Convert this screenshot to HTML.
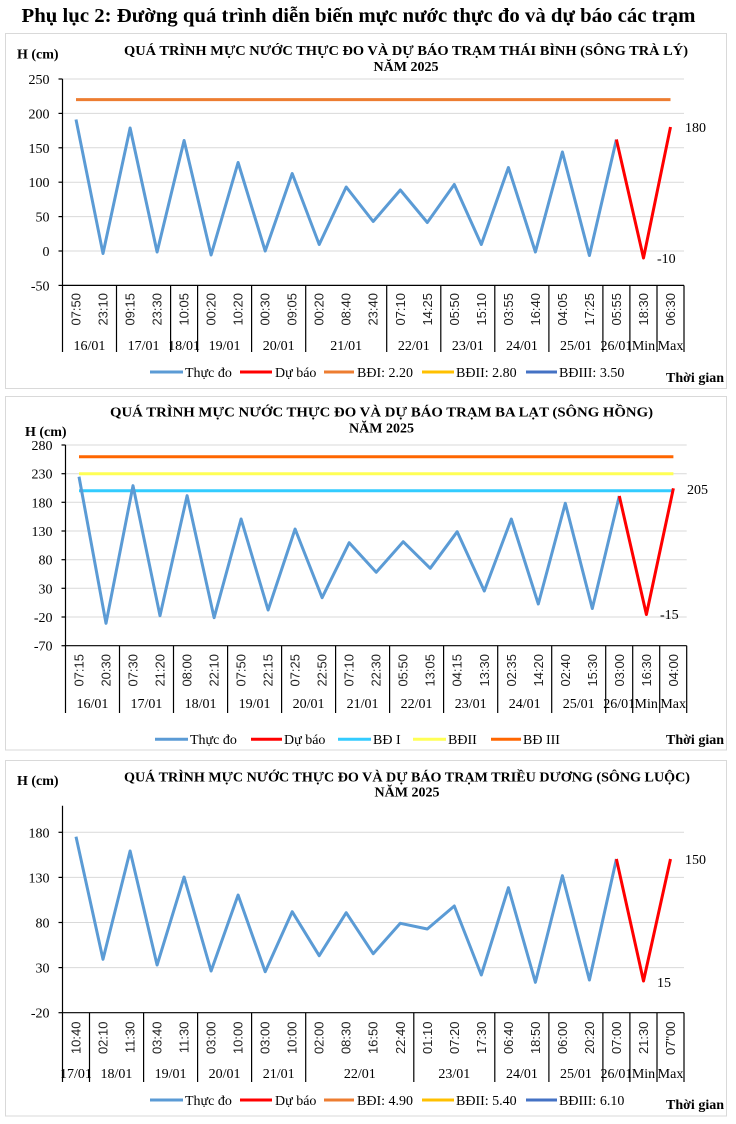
<!DOCTYPE html>
<html><head><meta charset="utf-8"><style>
html,body{margin:0;padding:0;background:#fff;}
svg{display:block;}
.s{font-family:"Liberation Serif","DejaVu Serif",serif;}
.b{font-weight:bold;}
.t{font-family:"Liberation Sans","DejaVu Sans",sans-serif;font-size:13px;fill:#222;}
.tk{font-family:"Liberation Serif",serif;font-size:14px;fill:#000;}
.g{stroke:#d9d9d9;stroke-width:1;}
.ax{stroke:#000;stroke-width:1.2;}
.bl{fill:none;stroke:#5b9bd5;stroke-width:3;stroke-linejoin:round;}
.rd{fill:none;stroke:#ff0000;stroke-width:3;stroke-linejoin:round;}
</style></head><body>
<svg width="736" height="1124" viewBox="0 0 736 1124" xmlns="http://www.w3.org/2000/svg">
<rect width="736" height="1124" fill="#fff"/>
<text class="s b" x="21.5" y="22" font-size="20" textLength="674" lengthAdjust="spacingAndGlyphs">Phụ lục 2: Đường quá trình diễn biến mực nước thực đo và dự báo các trạm</text>

<!-- ========== CHART 1 ========== -->
<rect x="5.5" y="33.5" width="721" height="355" fill="#fff" stroke="#d9d9d9"/>
<text class="s b" x="17" y="58.5" font-size="14">H (cm)</text>
<text class="s b" x="406" y="55" font-size="13.5" text-anchor="middle" textLength="564" lengthAdjust="spacingAndGlyphs">QUÁ TRÌNH MỰC NƯỚC THỰC ĐO VÀ DỰ BÁO TRẠM THÁI BÌNH (SÔNG TRÀ LÝ)</text>
<text class="s b" x="406" y="71" font-size="13.5" text-anchor="middle" textLength="65" lengthAdjust="spacingAndGlyphs">NĂM 2025</text>
<g class="g">
<line x1="62.5" y1="79" x2="684" y2="79"/><line x1="62.5" y1="113.4" x2="684" y2="113.4"/><line x1="62.5" y1="147.8" x2="684" y2="147.8"/><line x1="62.5" y1="182.2" x2="684" y2="182.2"/><line x1="62.5" y1="216.6" x2="684" y2="216.6"/><line x1="62.5" y1="251" x2="684" y2="251"/>
</g>
<g class="tk" text-anchor="end">
<text x="49.5" y="84">250</text><text x="49.5" y="118.4">200</text><text x="49.5" y="152.8">150</text><text x="49.5" y="187.2">100</text><text x="49.5" y="221.6">50</text><text x="49.5" y="256">0</text><text x="49.5" y="290.4">-50</text>
</g>
<g class="ax">
<line x1="62.5" y1="79" x2="62.5" y2="352"/>
<line x1="58.5" y1="79" x2="62.5" y2="79"/><line x1="58.5" y1="113.4" x2="62.5" y2="113.4"/><line x1="58.5" y1="147.8" x2="62.5" y2="147.8"/><line x1="58.5" y1="182.2" x2="62.5" y2="182.2"/><line x1="58.5" y1="216.6" x2="62.5" y2="216.6"/><line x1="58.5" y1="251" x2="62.5" y2="251"/><line x1="58.5" y1="285.4" x2="62.5" y2="285.4"/>
<line x1="62.5" y1="285.4" x2="684" y2="285.4"/>
<line x1="116.5" y1="285.4" x2="116.5" y2="352"/><line x1="170.6" y1="285.4" x2="170.6" y2="352"/><line x1="197.6" y1="285.4" x2="197.6" y2="352"/><line x1="251.6" y1="285.4" x2="251.6" y2="352"/><line x1="305.7" y1="285.4" x2="305.7" y2="352"/><line x1="386.7" y1="285.4" x2="386.7" y2="352"/><line x1="440.8" y1="285.4" x2="440.8" y2="352"/><line x1="494.8" y1="285.4" x2="494.8" y2="352"/><line x1="548.9" y1="285.4" x2="548.9" y2="352"/><line x1="602.9" y1="285.4" x2="602.9" y2="352"/><line x1="629.9" y1="285.4" x2="629.9" y2="352"/><line x1="657" y1="285.4" x2="657" y2="352"/><line x1="684" y1="285.4" x2="684" y2="352"/>
</g>
<line x1="76" y1="99.6" x2="670.5" y2="99.6" stroke="#ed7d31" stroke-width="3"/>
<polyline class="bl" points="76.0,119.5 103.0,253.5 130.1,128 157.1,252 184.1,140.5 211.1,255 238.1,162.5 265.2,251 292.2,173.5 319.2,244.5 346.2,187 373.2,221.5 400.3,190 427.3,222.5 454.3,184.5 481.3,244.5 508.4,167.5 535.4,252 562.4,152 589.4,255.5 616.4,139.5"/>
<polyline class="rd" points="616.4,139.5 643.5,258 670.5,127"/>
<text class="tk" x="685" y="132">180</text>
<text class="tk" x="657" y="263">-10</text>
<g class="t" text-anchor="end">
<text transform="translate(80.5,293) rotate(-90)">07:50</text>
<text transform="translate(107.5,293) rotate(-90)">23:10</text>
<text transform="translate(134.6,293) rotate(-90)">09:15</text>
<text transform="translate(161.6,293) rotate(-90)">23:30</text>
<text transform="translate(188.6,293) rotate(-90)">10:05</text>
<text transform="translate(215.6,293) rotate(-90)">00:20</text>
<text transform="translate(242.6,293) rotate(-90)">10:20</text>
<text transform="translate(269.7,293) rotate(-90)">00:30</text>
<text transform="translate(296.7,293) rotate(-90)">09:05</text>
<text transform="translate(323.7,293) rotate(-90)">00:20</text>
<text transform="translate(350.7,293) rotate(-90)">08:40</text>
<text transform="translate(377.7,293) rotate(-90)">23:40</text>
<text transform="translate(404.8,293) rotate(-90)">07:10</text>
<text transform="translate(431.8,293) rotate(-90)">14:25</text>
<text transform="translate(458.8,293) rotate(-90)">05:50</text>
<text transform="translate(485.8,293) rotate(-90)">15:10</text>
<text transform="translate(512.9,293) rotate(-90)">03:55</text>
<text transform="translate(539.9,293) rotate(-90)">16:40</text>
<text transform="translate(566.9,293) rotate(-90)">04:05</text>
<text transform="translate(593.9,293) rotate(-90)">17:25</text>
<text transform="translate(620.9,293) rotate(-90)">05:55</text>
<text transform="translate(648.0,293) rotate(-90)">18:30</text>
<text transform="translate(675.0,293) rotate(-90)">06:30</text>
</g>
<g class="tk" text-anchor="middle">
<text x="89.5" y="350">16/01</text><text x="143.6" y="350">17/01</text><text x="184.1" y="350">18/01</text><text x="224.6" y="350">19/01</text><text x="278.7" y="350">20/01</text><text x="346.2" y="350">21/01</text><text x="413.8" y="350">22/01</text><text x="467.8" y="350">23/01</text><text x="521.9" y="350">24/01</text><text x="575.9" y="350">25/01</text><text x="616.4" y="350">26/01</text><text x="643.5" y="350">Min</text><text x="670.5" y="350">Max</text>
</g>
<g stroke-width="3">
<line x1="150" y1="372" x2="183" y2="372" stroke="#5b9bd5"/>
<line x1="240" y1="372" x2="272" y2="372" stroke="#ff0000"/>
<line x1="324" y1="372" x2="354" y2="372" stroke="#ed7d31"/>
<line x1="422" y1="372" x2="454" y2="372" stroke="#ffc000"/>
<line x1="526" y1="372" x2="557" y2="372" stroke="#4472c4"/>
</g>
<g class="tk">
<text x="185" y="377">Thực đo</text><text x="275" y="377">Dự báo</text><text x="357" y="377">BĐI: 2.20</text><text x="456" y="377">BĐII: 2.80</text><text x="559" y="377">BĐIII: 3.50</text>
</g>
<text class="s b" x="724" y="382" font-size="14" text-anchor="end">Thời gian</text>

<!-- ========== CHART 2 ========== -->
<rect x="5.5" y="396.5" width="721" height="353.5" fill="#fff" stroke="#d9d9d9"/>
<text class="s b" x="25" y="436" font-size="14">H (cm)</text>
<text class="s b" x="381.5" y="416.5" font-size="13.5" text-anchor="middle" textLength="543" lengthAdjust="spacingAndGlyphs">QUÁ TRÌNH MỰC NƯỚC THỰC ĐO VÀ DỰ BÁO TRẠM BA LẠT (SÔNG HỒNG)</text>
<text class="s b" x="381.5" y="432.5" font-size="13.5" text-anchor="middle" textLength="65" lengthAdjust="spacingAndGlyphs">NĂM 2025</text>
<g class="g">
<line x1="65.5" y1="445" x2="686.7" y2="445"/><line x1="65.5" y1="473.7" x2="686.7" y2="473.7"/><line x1="65.5" y1="502.3" x2="686.7" y2="502.3"/><line x1="65.5" y1="531" x2="686.7" y2="531"/><line x1="65.5" y1="559.7" x2="686.7" y2="559.7"/><line x1="65.5" y1="588.3" x2="686.7" y2="588.3"/><line x1="65.5" y1="617" x2="686.7" y2="617"/>
</g>
<g class="tk" text-anchor="end">
<text x="52.5" y="450">280</text><text x="52.5" y="478.7">230</text><text x="52.5" y="507.3">180</text><text x="52.5" y="536">130</text><text x="52.5" y="564.7">80</text><text x="52.5" y="593.3">30</text><text x="52.5" y="622">-20</text><text x="52.5" y="650.7">-70</text>
</g>
<g class="ax">
<line x1="65.5" y1="445" x2="65.5" y2="713"/>
<line x1="61.5" y1="445" x2="65.5" y2="445"/><line x1="61.5" y1="473.7" x2="65.5" y2="473.7"/><line x1="61.5" y1="502.3" x2="65.5" y2="502.3"/><line x1="61.5" y1="531" x2="65.5" y2="531"/><line x1="61.5" y1="559.7" x2="65.5" y2="559.7"/><line x1="61.5" y1="588.3" x2="65.5" y2="588.3"/><line x1="61.5" y1="617" x2="65.5" y2="617"/><line x1="61.5" y1="645.7" x2="65.5" y2="645.7"/>
<line x1="65.5" y1="645.7" x2="686.7" y2="645.7"/>
<line x1="119.5" y1="645.7" x2="119.5" y2="713"/><line x1="173.5" y1="645.7" x2="173.5" y2="713"/><line x1="227.6" y1="645.7" x2="227.6" y2="713"/><line x1="281.6" y1="645.7" x2="281.6" y2="713"/><line x1="335.6" y1="645.7" x2="335.6" y2="713"/><line x1="389.6" y1="645.7" x2="389.6" y2="713"/><line x1="443.6" y1="645.7" x2="443.6" y2="713"/><line x1="497.7" y1="645.7" x2="497.7" y2="713"/><line x1="551.7" y1="645.7" x2="551.7" y2="713"/><line x1="605.7" y1="645.7" x2="605.7" y2="713"/><line x1="632.7" y1="645.7" x2="632.7" y2="713"/><line x1="659.7" y1="645.7" x2="659.7" y2="713"/><line x1="686.7" y1="645.7" x2="686.7" y2="713"/>
</g>
<line x1="79" y1="456.7" x2="673.4" y2="456.7" stroke="#ff6600" stroke-width="3"/>
<line x1="79" y1="473.7" x2="673.4" y2="473.7" stroke="#ffff55" stroke-width="3"/>
<line x1="79" y1="490.7" x2="673.4" y2="490.7" stroke="#33ccff" stroke-width="3"/>
<polyline class="bl" points="79.0,476.7 106.0,623.3 133.0,485.7 160.0,615.7 187.1,495.7 214.1,617.7 241.1,519 268.1,610 295.1,529 322.1,597.7 349.2,542.7 376.2,572.3 403.2,541.7 430.2,568.3 457.2,531.7 484.3,591 511.3,519 538.3,604 565.3,503.3 592.3,608.5 619.3,496"/>
<polyline class="rd" points="619.3,496 646.4,614.5 673.4,488.3"/>
<text class="tk" x="687" y="494">205</text>
<text class="tk" x="660" y="619">-15</text>
<g class="t" text-anchor="end">
<text transform="translate(83.5,654) rotate(-90)">07:15</text>
<text transform="translate(110.5,654) rotate(-90)">20:30</text>
<text transform="translate(137.5,654) rotate(-90)">07:30</text>
<text transform="translate(164.5,654) rotate(-90)">21:20</text>
<text transform="translate(191.6,654) rotate(-90)">08:00</text>
<text transform="translate(218.6,654) rotate(-90)">22:10</text>
<text transform="translate(245.6,654) rotate(-90)">07:50</text>
<text transform="translate(272.6,654) rotate(-90)">22:15</text>
<text transform="translate(299.6,654) rotate(-90)">07:25</text>
<text transform="translate(326.6,654) rotate(-90)">22:50</text>
<text transform="translate(353.7,654) rotate(-90)">07:10</text>
<text transform="translate(380.7,654) rotate(-90)">22:30</text>
<text transform="translate(407.7,654) rotate(-90)">05:50</text>
<text transform="translate(434.7,654) rotate(-90)">13:05</text>
<text transform="translate(461.7,654) rotate(-90)">04:15</text>
<text transform="translate(488.8,654) rotate(-90)">13:30</text>
<text transform="translate(515.8,654) rotate(-90)">02:35</text>
<text transform="translate(542.8,654) rotate(-90)">14:20</text>
<text transform="translate(569.8,654) rotate(-90)">02:40</text>
<text transform="translate(596.8,654) rotate(-90)">15:30</text>
<text transform="translate(623.8,654) rotate(-90)">03:00</text>
<text transform="translate(650.9,654) rotate(-90)">16:30</text>
<text transform="translate(677.9,654) rotate(-90)">04:00</text>
</g>
<g class="tk" text-anchor="middle">
<text x="92.5" y="708">16/01</text><text x="146.5" y="708">17/01</text><text x="200.6" y="708">18/01</text><text x="254.6" y="708">19/01</text><text x="308.6" y="708">20/01</text><text x="362.6" y="708">21/01</text><text x="416.6" y="708">22/01</text><text x="470.7" y="708">23/01</text><text x="524.7" y="708">24/01</text><text x="578.7" y="708">25/01</text><text x="619.2" y="708">26/01</text><text x="646.2" y="708">Min</text><text x="673.2" y="708">Max</text>
</g>
<g stroke-width="3">
<line x1="155" y1="739.3" x2="188" y2="739.3" stroke="#5b9bd5"/>
<line x1="251" y1="739.3" x2="282" y2="739.3" stroke="#ff0000"/>
<line x1="338" y1="739.3" x2="371" y2="739.3" stroke="#33ccff"/>
<line x1="413" y1="739.3" x2="446" y2="739.3" stroke="#ffff55"/>
<line x1="491" y1="739.3" x2="521" y2="739.3" stroke="#ff6600"/>
</g>
<g class="tk">
<text x="190" y="744">Thực đo</text><text x="284" y="744">Dự báo</text><text x="373" y="744">BĐ I</text><text x="448" y="744">BĐII</text><text x="523" y="744">BĐ III</text>
</g>
<text class="s b" x="724" y="744" font-size="14" text-anchor="end">Thời gian</text>

<!-- ========== CHART 3 ========== -->
<rect x="5.5" y="760.5" width="721" height="355.5" fill="#fff" stroke="#d9d9d9"/>
<text class="s b" x="17" y="785" font-size="14">H (cm)</text>
<text class="s b" x="407" y="781.5" font-size="13.5" text-anchor="middle" textLength="566" lengthAdjust="spacingAndGlyphs">QUÁ TRÌNH MỰC NƯỚC THỰC ĐO VÀ DỰ BÁO TRẠM TRIỀU DƯƠNG (SÔNG LUỘC)</text>
<text class="s b" x="407" y="796.5" font-size="13.5" text-anchor="middle" textLength="65" lengthAdjust="spacingAndGlyphs">NĂM 2025</text>
<g class="g">
<line x1="62.5" y1="832.3" x2="684" y2="832.3"/><line x1="62.5" y1="877.4" x2="684" y2="877.4"/><line x1="62.5" y1="922.5" x2="684" y2="922.5"/><line x1="62.5" y1="967.6" x2="684" y2="967.6"/>
</g>
<g class="tk" text-anchor="end">
<text x="49.5" y="837.3">180</text><text x="49.5" y="882.4">130</text><text x="49.5" y="927.5">80</text><text x="49.5" y="972.6">30</text><text x="49.5" y="1017.7">-20</text>
</g>
<g class="ax">
<line x1="62.5" y1="805.7" x2="62.5" y2="1082"/>
<line x1="58.5" y1="832.3" x2="62.5" y2="832.3"/><line x1="58.5" y1="877.4" x2="62.5" y2="877.4"/><line x1="58.5" y1="922.5" x2="62.5" y2="922.5"/><line x1="58.5" y1="967.6" x2="62.5" y2="967.6"/><line x1="58.5" y1="1012.7" x2="62.5" y2="1012.7"/>
<line x1="62.5" y1="1012.7" x2="684" y2="1012.7"/>
<line x1="89.5" y1="1012.7" x2="89.5" y2="1082"/><line x1="143.6" y1="1012.7" x2="143.6" y2="1082"/><line x1="197.6" y1="1012.7" x2="197.6" y2="1082"/><line x1="251.6" y1="1012.7" x2="251.6" y2="1082"/><line x1="305.7" y1="1012.7" x2="305.7" y2="1082"/><line x1="413.8" y1="1012.7" x2="413.8" y2="1082"/><line x1="494.8" y1="1012.7" x2="494.8" y2="1082"/><line x1="548.9" y1="1012.7" x2="548.9" y2="1082"/><line x1="602.9" y1="1012.7" x2="602.9" y2="1082"/><line x1="629.9" y1="1012.7" x2="629.9" y2="1082"/><line x1="657" y1="1012.7" x2="657" y2="1082"/><line x1="684" y1="1012.7" x2="684" y2="1082"/>
</g>
<polyline class="bl" points="76.0,836.7 103.0,959.3 130.1,851 157.1,965 184.1,877 211.1,971 238.1,895 265.2,971.7 292.2,911.7 319.2,955.7 346.2,912.7 373.2,953.7 400.3,923.3 427.3,929 454.3,906 481.3,975 508.4,887.7 535.4,982.3 562.4,875.7 589.4,980 616.4,859"/>
<polyline class="rd" points="616.4,859 643.5,981 670.5,859"/>
<text class="tk" x="685" y="864">150</text>
<text class="tk" x="657" y="987">15</text>
<g class="t" text-anchor="end">
<text transform="translate(80.5,1021.5) rotate(-90)">10:40</text>
<text transform="translate(107.5,1021.5) rotate(-90)">02:10</text>
<text transform="translate(134.6,1021.5) rotate(-90)">11:30</text>
<text transform="translate(161.6,1021.5) rotate(-90)">03:40</text>
<text transform="translate(188.6,1021.5) rotate(-90)">11:30</text>
<text transform="translate(215.6,1021.5) rotate(-90)">03:00</text>
<text transform="translate(242.6,1021.5) rotate(-90)">10:00</text>
<text transform="translate(269.7,1021.5) rotate(-90)">03:00</text>
<text transform="translate(296.7,1021.5) rotate(-90)">10:00</text>
<text transform="translate(323.7,1021.5) rotate(-90)">02:00</text>
<text transform="translate(350.7,1021.5) rotate(-90)">08:30</text>
<text transform="translate(377.7,1021.5) rotate(-90)">16:50</text>
<text transform="translate(404.8,1021.5) rotate(-90)">22:40</text>
<text transform="translate(431.8,1021.5) rotate(-90)">01:10</text>
<text transform="translate(458.8,1021.5) rotate(-90)">07:20</text>
<text transform="translate(485.8,1021.5) rotate(-90)">17:30</text>
<text transform="translate(512.9,1021.5) rotate(-90)">06:40</text>
<text transform="translate(539.9,1021.5) rotate(-90)">18:50</text>
<text transform="translate(566.9,1021.5) rotate(-90)">06:00</text>
<text transform="translate(593.9,1021.5) rotate(-90)">20:20</text>
<text transform="translate(620.9,1021.5) rotate(-90)">07:00</text>
<text transform="translate(648.0,1021.5) rotate(-90)">21:30</text>
<text transform="translate(675.0,1021.5) rotate(-90)">07"00</text>
</g>
<g class="tk" text-anchor="middle">
<text x="76" y="1078">17/01</text><text x="116.5" y="1078">18/01</text><text x="170.6" y="1078">19/01</text><text x="224.6" y="1078">20/01</text><text x="278.7" y="1078">21/01</text><text x="359.8" y="1078">22/01</text><text x="454.3" y="1078">23/01</text><text x="521.9" y="1078">24/01</text><text x="575.9" y="1078">25/01</text><text x="616.4" y="1078">26/01</text><text x="643.5" y="1078">Min</text><text x="670.5" y="1078">Max</text>
</g>
<g stroke-width="3">
<line x1="150" y1="1100" x2="183" y2="1100" stroke="#5b9bd5"/>
<line x1="240" y1="1100" x2="272" y2="1100" stroke="#ff0000"/>
<line x1="324" y1="1100" x2="354" y2="1100" stroke="#ed7d31"/>
<line x1="422" y1="1100" x2="454" y2="1100" stroke="#ffc000"/>
<line x1="526" y1="1100" x2="557" y2="1100" stroke="#4472c4"/>
</g>
<g class="tk">
<text x="185" y="1105">Thực đo</text><text x="275" y="1105">Dự báo</text><text x="357" y="1105">BĐI: 4.90</text><text x="456" y="1105">BĐII: 5.40</text><text x="559" y="1105">BĐIII: 6.10</text>
</g>
<text class="s b" x="724" y="1109" font-size="14" text-anchor="end">Thời gian</text>
</svg>
</body></html>
